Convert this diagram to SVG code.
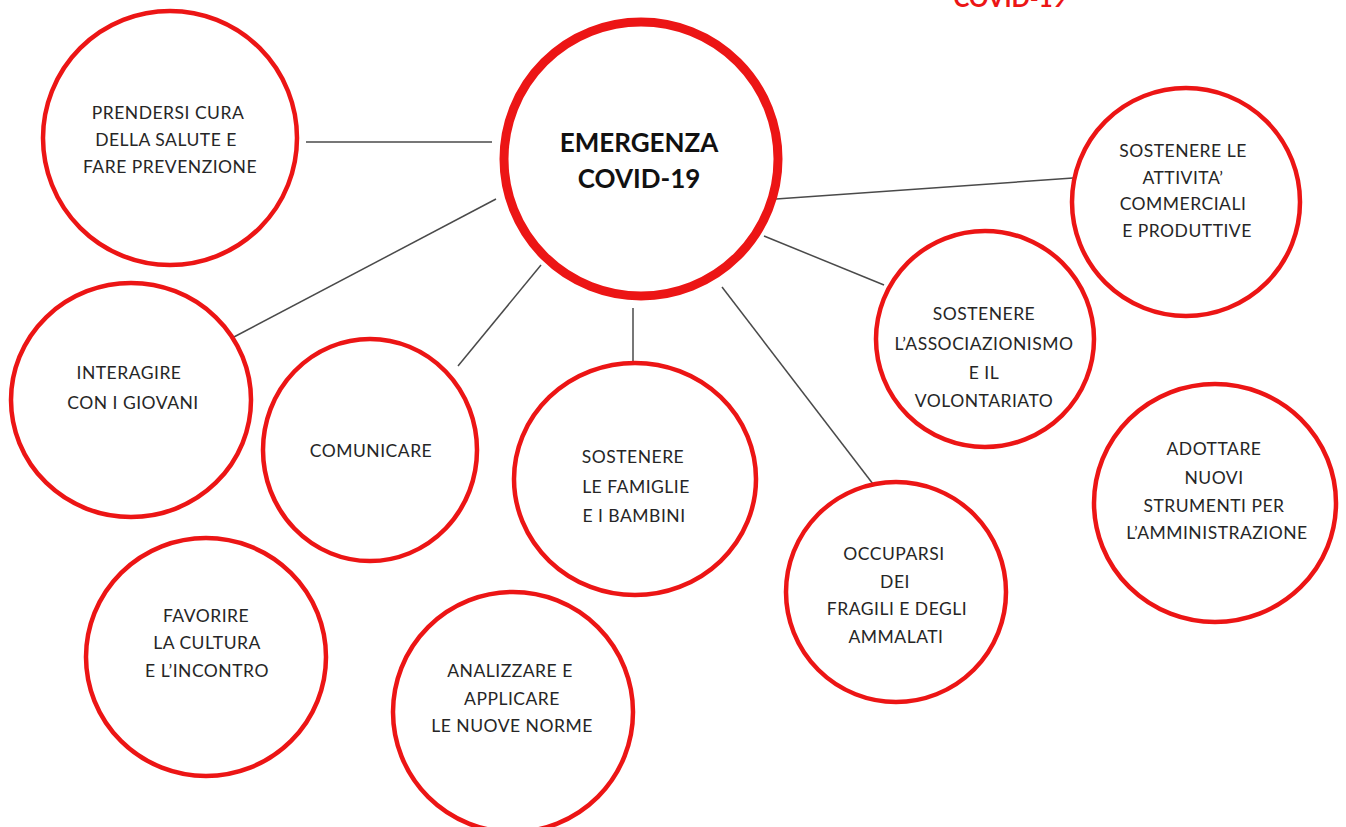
<svg xmlns="http://www.w3.org/2000/svg" width="1346" height="827" viewBox="0 0 1346 827">
<style>
  .c { fill: #ffffff; stroke: #ec1515; stroke-width: 4.5; }
  .main { fill: #ffffff; stroke: #ec1515; stroke-width: 9; }
  .t { font-family: Lato, "Open Sans", "Liberation Sans", sans-serif; font-size: 17.5px; letter-spacing: 0.5px; fill: #262626; text-anchor: middle; }
  .tm { font-family: Lato, "Open Sans", "Liberation Sans", sans-serif; font-size: 26px; font-weight: bold; fill: #111111; text-anchor: middle; }
  .conn line { stroke: #4a4a4a; stroke-width: 1.5; }
</style>
<rect width="1346" height="827" fill="#ffffff"/>
<text x="1010" y="7" font-family="Lato, 'Liberation Sans', sans-serif" font-size="24" font-weight="bold" fill="#ec1515" text-anchor="middle">COVID-19</text>
<g id="connectors" class="conn">
  <line x1="306" y1="142" x2="492" y2="142"/>
  <line x1="496" y1="199" x2="232" y2="338"/>
  <line x1="541" y1="265" x2="458" y2="366"/>
  <line x1="633" y1="308" x2="633" y2="362"/>
  <line x1="722" y1="287" x2="873" y2="484"/>
  <line x1="764" y1="236" x2="884" y2="285"/>
  <line x1="776" y1="199" x2="1073" y2="178"/>
</g>
<g id="n-center">
  <ellipse class="main" cx="641" cy="159" rx="137" ry="137"/>
  <text class="tm" x="639" y="152">EMERGENZA</text>
  <text class="tm" x="639" y="188">COVID-19</text>
</g>
<g id="n-prendersi">
  <ellipse class="c" cx="170" cy="138" rx="127" ry="127"/>
  <text class="t" x="168" y="119">PRENDERSI CURA</text>
  <text class="t" x="166" y="146">DELLA SALUTE E</text>
  <text class="t" x="170" y="173">FARE PREVENZIONE</text>
</g>
<g id="n-attivita">
  <ellipse class="c" cx="1186" cy="202" rx="114" ry="114"/>
  <text class="t" x="1183" y="157">SOSTENERE LE</text>
  <text class="t" x="1183" y="184">ATTIVITA’</text>
  <text class="t" x="1183" y="210">COMMERCIALI</text>
  <text class="t" x="1187" y="237">E PRODUTTIVE</text>
</g>
<g id="n-associazionismo">
  <ellipse class="c" cx="985" cy="339" rx="109" ry="108"/>
  <text class="t" x="984" y="320">SOSTENERE</text>
  <text class="t" x="984" y="350">L’ASSOCIAZIONISMO</text>
  <text class="t" x="984" y="379">E IL</text>
  <text class="t" x="984" y="407">VOLONTARIATO</text>
</g>
<g id="n-adottare">
  <ellipse class="c" cx="1215" cy="503" rx="121" ry="119"/>
  <text class="t" x="1214" y="455">ADOTTARE</text>
  <text class="t" x="1214" y="484">NUOVI</text>
  <text class="t" x="1214" y="512">STRUMENTI PER</text>
  <text class="t" x="1217" y="539">L’AMMINISTRAZIONE</text>
</g>
<g id="n-interagire">
  <ellipse class="c" cx="131" cy="400" rx="120" ry="117"/>
  <text class="t" x="129" y="379">INTERAGIRE</text>
  <text class="t" x="133" y="409">CON I GIOVANI</text>
</g>
<g id="n-comunicare">
  <ellipse class="c" cx="370" cy="450" rx="107" ry="111"/>
  <text class="t" x="371" y="457">COMUNICARE</text>
</g>
<g id="n-famiglie">
  <ellipse class="c" cx="635" cy="479" rx="121" ry="116"/>
  <text class="t" x="633" y="463">SOSTENERE</text>
  <text class="t" x="636" y="493">LE FAMIGLIE</text>
  <text class="t" x="634" y="522">E I BAMBINI</text>
</g>
<g id="n-occuparsi">
  <ellipse class="c" cx="896" cy="592" rx="110" ry="110"/>
  <text class="t" x="894" y="560">OCCUPARSI</text>
  <text class="t" x="895" y="588">DEI</text>
  <text class="t" x="897" y="615">FRAGILI E DEGLI</text>
  <text class="t" x="896" y="643">AMMALATI</text>
</g>
<g id="n-favorire">
  <ellipse class="c" cx="206" cy="657" rx="120" ry="119"/>
  <text class="t" x="206" y="622">FAVORIRE</text>
  <text class="t" x="207" y="649">LA CULTURA</text>
  <text class="t" x="207" y="677">E L’INCONTRO</text>
</g>
<g id="n-analizzare">
  <ellipse class="c" cx="513" cy="712" rx="120" ry="120"/>
  <text class="t" x="510" y="677">ANALIZZARE E</text>
  <text class="t" x="512" y="705">APPLICARE</text>
  <text class="t" x="512" y="732">LE NUOVE NORME</text>
</g>
</svg>
